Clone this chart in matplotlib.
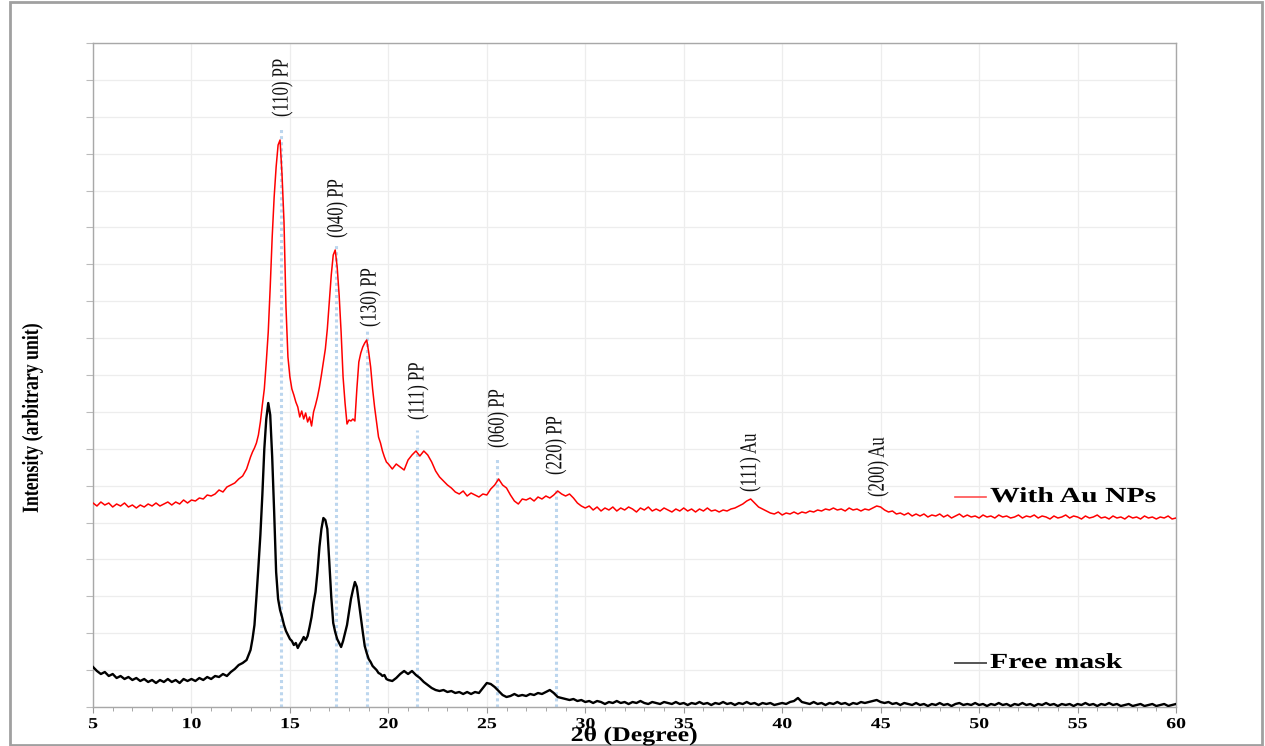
import numpy as np
import matplotlib
matplotlib.use("Agg")
import matplotlib.pyplot as plt
from matplotlib.lines import Line2D
from matplotlib.patches import Rectangle
from matplotlib.patheffects import AbstractPathEffect
from matplotlib.transforms import Affine2D

plt.rcParams['font.family'] = ['Liberation Serif', 'DejaVu Serif']

# 2-theta scan grid (degrees): coarse, fine (peak region), coarse
two_theta = np.round(np.concatenate([
    np.arange(5.0, 12.81, 0.2),
    np.arange(12.9, 20.01, 0.1),
    np.arange(20.2, 60.01, 0.2),
]), 2)

# Intensity (arbitrary unit)
with_au = [
    204, 201, 205, 202, 204, 200, 203, 201, 204, 200,
    202, 199, 202, 200, 203, 201, 204, 201, 203, 205,
    202, 205, 203, 207, 204, 207, 206, 209, 208, 212,
    211, 213, 217, 215, 220, 222, 224, 228, 231, 238,
    # fine region 12.9 - 20.0
    244, 250, 255, 259, 264, 272, 285, 302, 318, 345,
    375, 420, 470, 510, 540, 562, 567, 532, 485, 400,
    350, 330, 318, 312, 305, 300, 290, 296, 288, 294,
    285, 290, 281, 295, 302, 310, 320, 332, 345, 358,
    378, 405, 432, 452, 457, 440, 412, 375, 330, 304,
    283, 287, 286, 288, 286, 318, 345, 354, 360, 364,
    367, 355, 340, 318, 300, 285, 270, 264, 256, 250,
    245, 243,
    # 20.2 - 60.0
    238, 243, 240, 237, 247, 252, 256, 251, 256, 252,
    245, 236, 230, 226, 222, 219, 215, 213, 216, 211,
    214, 212, 210, 213, 212, 218, 222, 228, 222, 219,
    212, 206, 203, 208, 207, 209, 206, 210, 208, 211,
    209, 212, 216, 213, 211, 213, 209, 204, 201, 199,
    201, 197, 200, 196, 199, 197, 200, 196, 199, 197,
    200, 198, 195, 199, 197, 200, 196, 198, 196, 199,
    197, 195, 198, 196, 199, 196, 198, 195, 198, 196,
    199, 196, 197, 195, 197, 196, 198, 199, 201, 203,
    206, 208, 204, 200, 198, 196, 194, 193, 195, 192,
    194, 193, 195, 193, 195, 194, 196, 195, 197, 196,
    198, 197, 199, 197, 198, 196, 199, 197, 198, 196,
    198, 197, 199, 201, 200, 197, 195, 196, 193, 194,
    192, 194, 191, 193, 191, 193, 190, 192, 191, 193,
    190, 192, 189, 191, 193, 190, 192, 190, 191, 189,
    192, 190, 191, 189, 192, 190, 191, 189, 190, 192,
    189, 191, 190, 192, 189, 191, 190, 188, 191, 189,
    190, 192, 189, 191, 190, 188, 191, 189, 190, 192,
    189, 190, 188, 191, 189, 190, 188, 191, 189, 190,
    188, 191, 189, 190, 188, 190, 189, 191, 188, 189,
]

free_mask = [
    40, 36, 33, 35, 31, 33, 29, 31, 28, 30,
    27, 29, 26, 28, 25, 27, 24, 27, 25, 28,
    25, 27, 24, 28, 26, 28, 26, 29, 27, 30,
    28, 31, 30, 33, 31, 35, 38, 42, 44, 47,
    # fine region 12.9 - 20.0
    52, 57, 68, 82, 110, 140, 172, 212, 258, 288,
    304, 292, 250, 195, 135, 108, 97, 90, 82, 76,
    72, 68, 66, 62, 64, 59, 63, 66, 70, 67,
    71, 80, 90, 104, 115, 135, 160, 178, 189, 187,
    178, 145, 110, 84, 75, 68, 64, 60, 66, 74,
    82, 95, 108, 117, 125, 120, 105, 90, 75, 61,
    54, 48, 45, 41, 39, 37, 34, 33, 31, 32,
    28, 27,
    # 20.2 - 60.0
    26, 29, 33, 36, 33, 36, 32, 29, 25, 22,
    19, 17, 16, 17, 15, 16, 14, 15, 13, 15,
    13, 15, 14, 19, 24, 23, 20, 16, 12, 10,
    11, 13, 11, 12, 11, 13, 12, 14, 13, 15,
    17, 14, 10, 9, 8, 7, 8, 6, 7, 5,
    6, 4, 6, 5, 3, 5, 4, 6, 4, 5,
    3, 5, 4, 6, 4, 3, 5, 4, 3, 5,
    4, 3, 5, 3, 4, 2, 4, 3, 5, 3,
    4, 2, 4, 3, 5, 3, 4, 2, 4, 3,
    5, 3, 4, 2, 4, 3, 4, 2, 3, 4,
    3, 5, 6, 9, 5, 4, 3, 5, 3, 4,
    2, 4, 3, 5, 3, 4, 2, 4, 3, 5,
    4, 5, 6, 7, 5, 4, 5, 3, 4, 2,
    4, 3, 2, 4, 2, 3, 1, 3, 2, 4,
    2, 3, 1, 3, 4, 2, 3, 2, 4, 2,
    3, 1, 3, 2, 4, 2, 3, 1, 3, 2,
    4, 2, 3, 1, 3, 2, 4, 2, 3, 1,
    3, 2, 3, 1, 3, 2, 4, 2, 3, 1,
    3, 2, 4, 2, 3, 1, 2, 3, 1, 2,
    3, 1, 2, 3, 1, 2, 3, 1, 2, 3,
]

series_names = ["With Au NPs", "Free mask"]

# Peak assignments
peak_labels = ["(110) PP", "(040) PP", "(130) PP", "(111) PP", "(060) PP",
               "(220) PP", "(111) Au", "(200) Au"]
peak_label_x = [14.6, 17.39, 19.07, 21.5, 25.57, 28.5, 38.37, 44.87]
peak_label_y = [590, 469, 380, 287, 259, 232, 215, 210]
ref_line_x = [14.54, 17.33, 18.9, 21.44, 25.5, 28.51]
ref_line_top = [580, 464, 377, 277, 249, 220]

x_ticks = [5, 10, 15, 20, 25, 30, 35, 40, 45, 50, 55, 60]


class Stretch(AbstractPathEffect):
    """Widen glyphs of a text (the source picture is horizontally stretched)."""

    def __init__(self, factor, axis='x', anchor='center'):
        super().__init__()
        self.factor = factor
        self.axis = axis
        self.anchor = anchor

    def draw_path(self, renderer, gc, tpath, affine, rgbFace=None):
        v = tpath.vertices
        if len(v) == 0:
            renderer.draw_path(gc, tpath, affine, rgbFace)
            return
        if self.axis == 'x':
            c = v[:, 0].min() if self.anchor == 'left' else 0.5 * (v[:, 0].min() + v[:, 0].max())
            pre = Affine2D().translate(-c, 0).scale(self.factor, 1).translate(c, 0)
        else:
            c = 0.5 * (v[:, 1].min() + v[:, 1].max())
            pre = Affine2D().translate(0, -c).scale(1, self.factor).translate(0, c)
        renderer.draw_path(gc, tpath, pre + affine, rgbFace)


W, H = 1265, 746
fig = plt.figure(figsize=(W / 100, H / 100), dpi=100)
ax = fig.add_axes([93 / W, 1 - 707 / H, (1176 - 93) / W, (707 - 43) / H])

ymax = 664
ax.set_xlim(5, 60)
ax.set_ylim(0, ymax)
ax.set_xticks(x_ticks)
ax.set_xticks(np.arange(5, 61, 1), minor=True)
ax.set_yticks(np.linspace(0, ymax, 19))
ax.set_yticklabels([])
ax.grid(True, which='major', color='#ededed', lw=0.9)
ax.set_axisbelow(True)

for sp in ax.spines.values():
    sp.set_color('#a8a8a8')
    sp.set_linewidth(1.0)
ax.tick_params(axis='x', which='major', direction='out', length=4, color='#999999',
               pad=4, labelsize=11)
ax.tick_params(axis='x', which='minor', direction='out', length=3, color='#999999')
ax.tick_params(axis='y', direction='out', length=5, color='#bbbbbb')
for tick in ax.xaxis.get_major_ticks():
    tick.label1.set_fontweight('bold')
    tick.label1.set_path_effects([Stretch(1.3)])

# reference dotted lines
for x, top in zip(ref_line_x, ref_line_top):
    ax.plot([x, x], [0, top], color='#bcd6ee', lw=2.2, ls=(0, (1, 1)), zorder=1)

ax.plot(two_theta, with_au, color='#ff0000', lw=1.1, zorder=3)
ax.plot(two_theta, free_mask, color='#000000', lw=1.7, zorder=3)

for s, x, y in zip(peak_labels, peak_label_x, peak_label_y):
    ax.text(x, y, s, rotation=90, ha='center', va='bottom', fontsize=12,
            color='#111111', zorder=4, path_effects=[Stretch(1.4, axis='y')])

# legend-like labels
fig.add_artist(Line2D([955 / W, 986 / W], [1 - 497 / H, 1 - 497 / H],
                      color='#ff5050', lw=1.2))
fig.text(990 / W, 1 - 497 / H, series_names[0], fontsize=15.5, fontweight='bold',
         va='center', ha='left', path_effects=[Stretch(1.38, anchor='left')])
fig.add_artist(Line2D([955 / W, 986 / W], [1 - 663 / H, 1 - 663 / H],
                      color='#555555', lw=1.4))
fig.text(990 / W, 1 - 663 / H, series_names[1], fontsize=15.5, fontweight='bold',
         va='center', ha='left', path_effects=[Stretch(1.38, anchor='left')])

fig.text(634 / W, 1 - 736 / H, "2θ (Degree)", fontsize=15, fontweight='bold',
         ha='center', va='center', path_effects=[Stretch(1.24)])
fig.text(32 / W, 1 - 418 / H, "Intensity (arbitrary unit)", fontsize=12.8,
         fontweight='bold', rotation=90, ha='center', va='center',
         path_effects=[Stretch(1.3, axis='y')])

# outer frame
fig.add_artist(Rectangle((9.5 / W, 1.5 / H), (1262 - 9.5) / W, (744 - 1.5) / H,
                         fill=False, edgecolor='#a0a0a0', lw=2.0,
                         transform=fig.transFigure))

fig.savefig("out.png", dpi=100)
